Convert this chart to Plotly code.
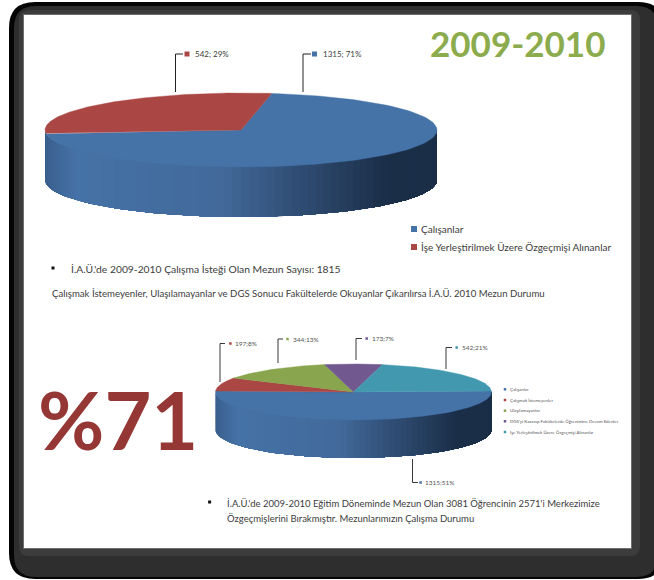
import numpy as np
import plotly.graph_objects as go

# ---- data ----
PIE1_CATEGORIES = ["Çalışanlar", "İşe Yerleştirilmek Üzere Özgeçmişi Alınanlar"]
PIE1_VALUES = [1315, 542]
PIE2_CATEGORIES = ["Çalışanlar", "Çalışmak İstemeyenler", "Ulaşılamayanlar",
                   "DGS'yi Kazanıp Fakültelerde Öğrenimine Devam Edenler",
                   "İşe Yerleştirilmek Üzere Özgeçmişi Alınanlar"]
PIE2_VALUES = [1315, 197, 344, 173, 542]

# ---- styles / layout ----
BLUE, RED, GREEN, PURPLE, TEAL = "#4572A7", "#AA4643", "#89A54E", "#71588F", "#4198AF"
COL1 = [BLUE, RED]
COL2 = [BLUE, RED, GREEN, PURPLE, TEAL]
TXT = "#3c3c3c"
FONT = "Lato"

fig = go.Figure()


def mix(a, b, t):
    a = [int(a[i:i + 2], 16) for i in (1, 3, 5)]
    b = [int(b[i:i + 2], 16) for i in (1, 3, 5)]
    return "rgb(%d,%d,%d)" % tuple(round(x + (y - x) * t) for x, y in zip(a, b))


def poly(xs, ys, color, lw=0):
    fig.add_trace(go.Scatter(x=xs, y=ys, mode="lines", fill="toself", fillcolor=color,
                             line=dict(color=color, width=lw), hoverinfo="skip",
                             showlegend=False))


def pie3d(values, colors, cx, cy, rx, ry, depth, start):
    # front wall: overlapping vertical strips shaded left to right (no seams)
    a = np.linspace(180, 360, 73)
    for i in range(72):
        th = np.radians(np.linspace(a[i], 360, max(3, 73 - i)))
        px = cx + rx * np.cos(th)
        py = cy - ry * np.sin(th)
        t = (cx + rx * np.cos(np.radians(a[i] + 1.25)) - (cx - rx)) / (2 * rx)
        if t < 0.08:
            c = mix("#3A5F8D", BLUE, t / 0.08)
        elif t < 0.45:
            c = mix(BLUE, "#42699A", (t - 0.08) / 0.37)
        else:
            c = mix("#42699A", "#1B2E48", min(1, (t - 0.45) / 0.42))
        poly(list(px) + list(px[::-1]), list(py) + list(py[::-1] + depth), c)
    # top face
    total = sum(values)
    ang = start
    for v, c in zip(values, colors):
        sweep = 360 * v / total
        th = np.radians(np.linspace(ang, ang - sweep, 120))
        poly([cx] + list(cx + rx * np.cos(th)) + [cx],
             [cy] + list(cy - ry * np.sin(th)) + [cy], c, 0.4)
        ang -= sweep


pie3d(PIE1_VALUES, COL1, 241, 130, 196, 37, 50, 81)
pie3d(PIE2_VALUES, COL2, 353.5, 392, 138, 28, 38, 2)


def text(x, y, s, size, color=TXT, bold=False, anchor="left"):
    fig.add_annotation(x=x, y=y, text=f"<b>{s}</b>" if bold else s, showarrow=False,
                       xref="x", yref="y", xanchor=anchor, yanchor="middle",
                       font=dict(family=FONT, size=size, color=color))


def square(x, y, color, size):
    fig.add_trace(go.Scatter(x=[x], y=[y], mode="markers", hoverinfo="skip", showlegend=False,
                             marker=dict(symbol="square", size=size, color=color)))


def leader(xs, ys, width=1):
    fig.add_shape(type="path", xref="x", yref="y",
                  path="M " + " L ".join(f"{x},{y}" for x, y in zip(xs, ys)),
                  line=dict(color="#222222", width=width), layer="above")


def lab(values, i, sep):
    return f"{values[i]}; {round(100 * values[i] / sum(values))}%" if sep else \
        f"{values[i]};{round(100 * values[i] / sum(values))}%"


# first pie leaders + labels
leader([175.5, 175.5, 183], [92, 54, 54])
square(187, 54, RED, 5)
text(193, 54, lab(PIE1_VALUES, 1, True), 8)
leader([303, 303, 311], [92, 54, 54])
square(314.5, 54, BLUE, 5)
text(320.5, 54, lab(PIE1_VALUES, 0, True), 8)

# second pie leaders + labels
for i, xs, ys, mx, tx in [
    (1, [220, 220, 225], [382, 343.5, 343.5], 230.4, 233),
    (2, [278, 278, 283], [363, 339, 339], 287.5, 291),
    (3, [356, 356, 362], [360, 338.5, 338.5], 366.7, 369.5),
    (4, [446, 446, 452], [369, 347.5, 347.5], 456.7, 459.5),
    (0, [412.5, 412.5, 418], [459, 482.5, 482.5], 420.6, 423),
]:
    leader(xs, ys, 0.9)
    square(mx, ys[-1], COL2[i], 2.5)
    text(tx, ys[-1], lab(PIE2_VALUES, i, False), 6.5, "#555555")

# first legend
for i, y in enumerate([229, 247]):
    square(414, y, COL1[i], 6)
    text(419, y, PIE1_CATEGORIES[i], 10)

# second legend
for i, y in enumerate([389.3, 400, 410.7, 421.3, 432]):
    square(505, y, COL2[i], 2.5)
    text(507.5, y, PIE2_CATEGORIES[i], 4.4, "#555555")

# headings / notes
text(517, 43, "2009-2010", 35, "#8BAB4C", True, "center")
text(118, 418, "%71", 81, "#953735", True, "center")
square(53, 268, "#111111", 3)
text(69, 269, "İ.A.Ü.'de 2009-2010 Çalışma İsteği Olan Mezun Sayısı: 1815", 10.3)
text(50, 293, "Çalışmak İstemeyenler, Ulaşılamayanlar ve DGS Sonucu Fakültelerde Okuyanlar Çıkarılırsa İ.A.Ü. 2010 Mezun Durumu", 9.6)
square(209.6, 502, "#111111", 3)
text(225, 503, "İ.A.Ü.'de 2009-2010 Eğitim Döneminde Mezun Olan 3081 Öğrencinin 2571'i Merkezimize", 9.5)
text(225, 518, "Özgeçmişlerini Bırakmıştır. Mezunlarımızın Çalışma Durumu", 9.5)


def rrect(x0, y0, x1, y1, r):
    return (f"M {x0 + r},{y0} L {x1 - r},{y0} Q {x1},{y0} {x1},{y0 + r} L {x1},{y1 - r} "
            f"Q {x1},{y1} {x1 - r},{y1} L {x0 + r},{y1} Q {x0},{y1} {x0},{y1 - r} "
            f"L {x0},{y0 + r} Q {x0},{y0} {x0 + r},{y0} Z")


shapes_bg = [
    dict(type="path", path=rrect(9, 2, 664, 579, 26), fillcolor="#050505", line_width=0, layer="below"),
    dict(type="path", path=rrect(14, 6, 658, 577, 22), fillcolor="#2E2E2E", line_width=0, layer="below"),
    dict(type="path", path=rrect(19, 10, 640, 556, 10), fillcolor="#3C3C3C", line_width=0, layer="below"),
    dict(type="rect", x0=23, y0=14, x1=632, y1=549, fillcolor="#6E6E6E", line_width=0, layer="below"),
    dict(type="rect", x0=24, y0=15, x1=631, y1=548, fillcolor="#FFFFFF", line_width=0, layer="below"),
]
for s in shapes_bg:
    fig.add_shape(xref="x", yref="y", **s)

fig.update_layout(
    width=654, height=580, margin=dict(l=0, r=0, t=0, b=0),
    paper_bgcolor="#FFFFFF", plot_bgcolor="#FFFFFF", showlegend=False,
    xaxis=dict(visible=False, range=[0, 654], fixedrange=True),
    yaxis=dict(visible=False, range=[580, 0], fixedrange=True),
)
fig.write_html("out.html", config=dict(displayModeBar=False),
               post_script="document.body.style.margin='0';")
